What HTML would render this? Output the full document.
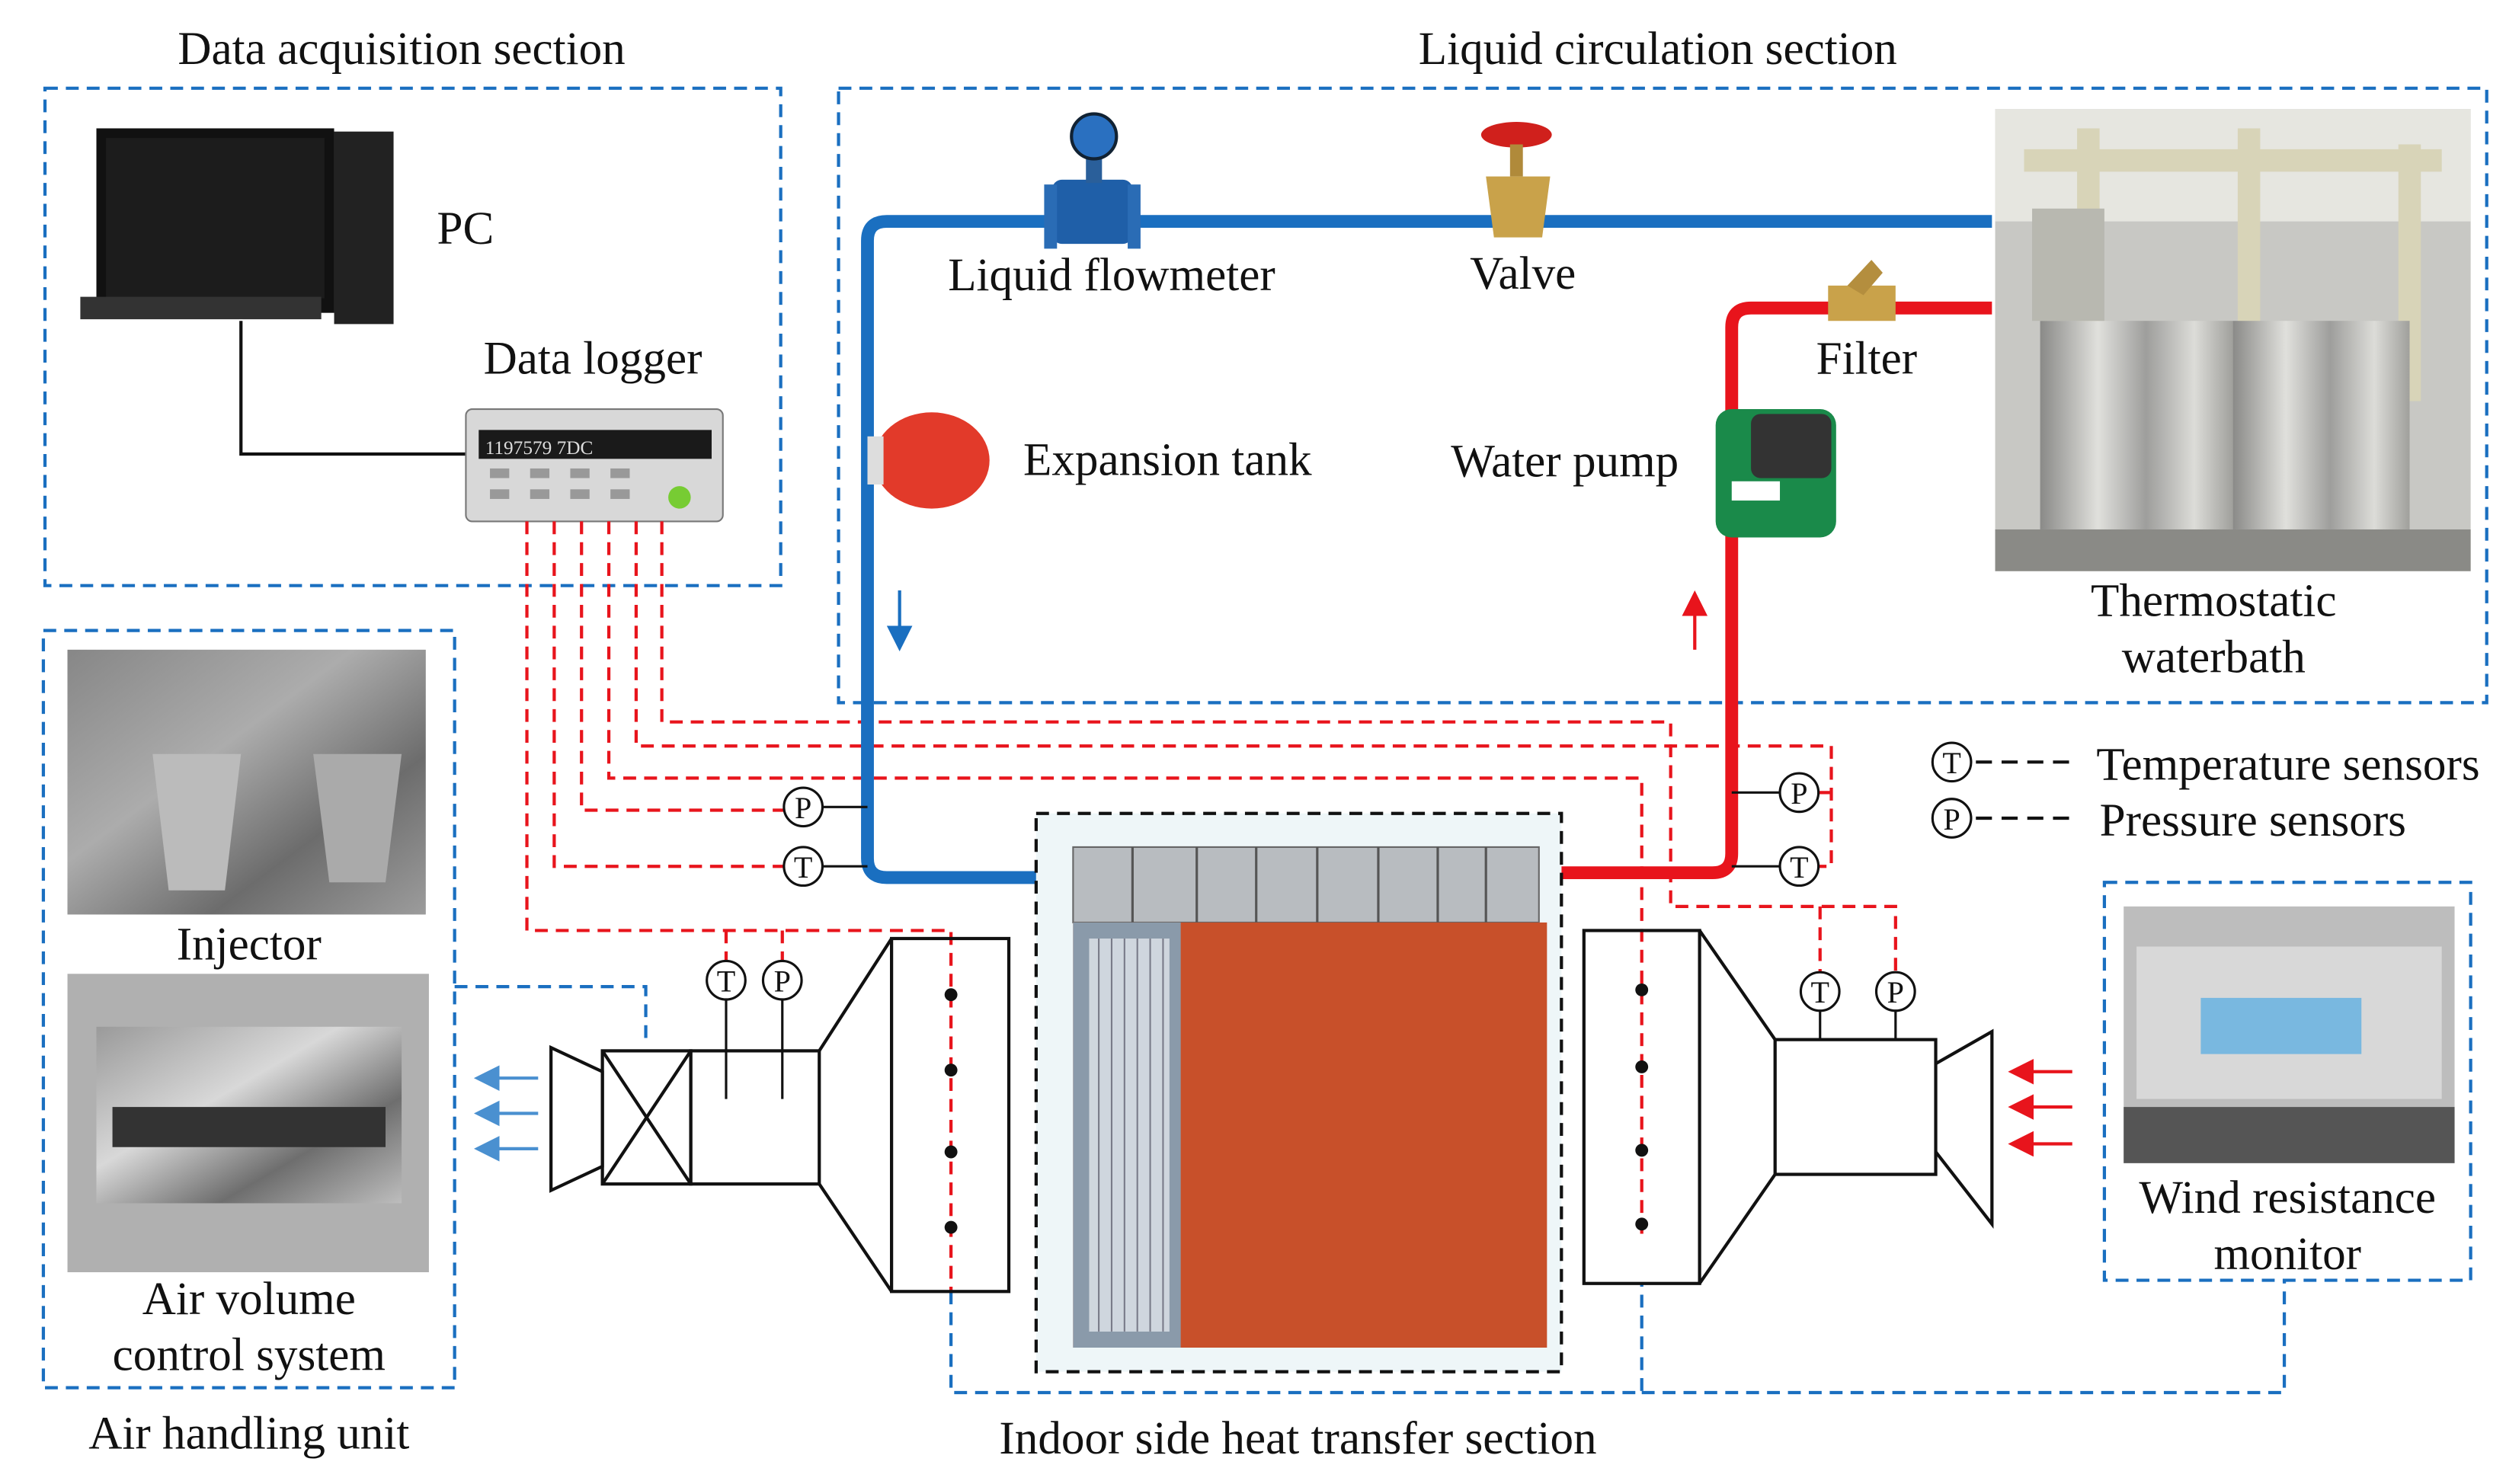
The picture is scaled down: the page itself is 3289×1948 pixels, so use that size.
<!DOCTYPE html>
<html><head><meta charset="utf-8"><style>
html,body{margin:0;padding:0;background:#fff}
svg{display:block}
text{font-family:"Liberation Serif",serif;font-size:29px;fill:#111}
</style></head><body>
<svg width="3289" height="1948" viewBox="0 0 1560 925" preserveAspectRatio="none" xmlns="http://www.w3.org/2000/svg">
<defs>
<linearGradient id="metal" x1="0" y1="0" x2="1" y2="1"><stop offset="0" stop-color="#9a9a9a"/><stop offset=".4" stop-color="#d8d8d8"/><stop offset=".7" stop-color="#6e6e6e"/><stop offset="1" stop-color="#bdbdbd"/></linearGradient>
<linearGradient id="bath" x1="0" y1="0" x2="1" y2="0"><stop offset="0" stop-color="#8a8a88"/><stop offset=".3" stop-color="#e0e0dc"/><stop offset=".55" stop-color="#9e9e9c"/><stop offset=".8" stop-color="#dcdcd8"/><stop offset="1" stop-color="#a0a09c"/></linearGradient>
<marker id="ab" markerWidth="8" markerHeight="8" refX="4" refY="4" orient="auto"><path d="M0,0 L8,4 L0,8 z" fill="#1a6fc0"/></marker>
<marker id="ar" markerWidth="8" markerHeight="8" refX="4" refY="4" orient="auto"><path d="M0,0 L8,4 L0,8 z" fill="#e8141c"/></marker>
<marker id="abl" markerWidth="8" markerHeight="8" refX="4" refY="4" orient="auto"><path d="M0,0 L8,4 L0,8 z" fill="#4a90d0"/></marker>
</defs>

<g fill="none" stroke="#1a6fc0" stroke-width="2" stroke-dasharray="8,5">
<rect x="28" y="55" width="458" height="310"/>
<rect x="522" y="55" width="1026" height="383"/>
<rect x="27" y="393" width="256" height="472"/>
<rect x="1310" y="550" width="228" height="248"/>
<path d="M283,615 H402 V648"/>
<path d="M592,805 V868 H1022 V800"/>
<path d="M1022,868 H1422 V798"/>
</g>

<text x="250" y="40" text-anchor="middle">Data acquisition section</text>
<text x="1032" y="40" text-anchor="middle">Liquid circulation section</text>

<rect x="60" y="80" width="148" height="115" fill="#111"/>
<rect x="66" y="86" width="136" height="100" fill="#1c1c1c"/>
<rect x="208" y="82" width="37" height="120" fill="#222"/>
<rect x="50" y="185" width="150" height="14" fill="#333"/>
<text x="272" y="152">PC</text>
<path d="M150,200 V283 H292" fill="none" stroke="#111" stroke-width="2"/>
<text x="301" y="233">Data logger</text>
<rect x="290" y="255" width="160" height="70" rx="4" fill="#d8d8d8" stroke="#777"/>
<rect x="298" y="268" width="145" height="18" fill="#1a1a1a"/>
<text x="302" y="283" style="font-size:12px;fill:#ddd">1197579 7DC</text>
<g fill="#999"><rect x="305" y="292" width="12" height="6"/><rect x="330" y="292" width="12" height="6"/><rect x="355" y="292" width="12" height="6"/><rect x="380" y="292" width="12" height="6"/><rect x="305" y="305" width="12" height="6"/><rect x="330" y="305" width="12" height="6"/><rect x="355" y="305" width="12" height="6"/><rect x="380" y="305" width="12" height="6"/></g>
<circle cx="423" cy="310" r="7" fill="#7c3"/>

<g fill="none" stroke="#e8141c" stroke-width="2" stroke-dasharray="8,5">
<path d="M328,325 V580 H592 V805"/>
<path d="M452,580 V600"/><path d="M487,580 V600"/>
<path d="M345,325 V540 H488"/>
<path d="M362,325 V505 H488"/>
<path d="M379,325 V485 H1022 V770"/>
<path d="M396,325 V465 H1140 V540 H1132"/>
<path d="M1140,494 H1132"/>
<path d="M412,325 V450 H1040 V565 H1180 V607"/>
<path d="M1133,565 V607"/>
</g>
<g fill="#111"><circle cx="592" cy="620" r="4"/><circle cx="592" cy="667" r="4"/><circle cx="592" cy="718" r="4"/><circle cx="592" cy="765" r="4"/>
<circle cx="1022" cy="617" r="4"/><circle cx="1022" cy="665" r="4"/><circle cx="1022" cy="717" r="4"/><circle cx="1022" cy="763" r="4"/></g>

<path d="M1240,138 H552 Q540,138 540,150 V535 Q540,547 552,547 H645" fill="none" stroke="#1a6fc0" stroke-width="8"/>
<path d="M1240,192 H1090 Q1078,192 1078,204 V532 Q1078,544 1066,544 H972" fill="none" stroke="#e8141c" stroke-width="8"/>
<line x1="560" y1="368" x2="560" y2="398" stroke="#1a6fc0" stroke-width="2" marker-end="url(#ab)"/>
<line x1="1055" y1="405" x2="1055" y2="376" stroke="#e8141c" stroke-width="2" marker-end="url(#ar)"/>

<rect x="655" y="112" width="50" height="40" rx="6" fill="#1f5fa8"/>
<rect x="650" y="115" width="8" height="40" fill="#2a6cb5"/><rect x="702" y="115" width="8" height="40" fill="#2a6cb5"/>
<rect x="676" y="92" width="10" height="22" fill="#2a5f9a"/>
<circle cx="681" cy="85" r="14" fill="#2a70c0" stroke="#123" stroke-width="2"/>
<text x="692" y="181" text-anchor="middle">Liquid flowmeter</text>
<ellipse cx="944" cy="84" rx="22" ry="8" fill="#d0201c"/>
<rect x="940" y="90" width="8" height="20" fill="#b08a3a"/>
<path d="M925,110 H965 L960,148 H930 Z" fill="#c9a24a"/>
<text x="948" y="180" text-anchor="middle">Valve</text>
<path d="M1138,178 L1180,178 L1180,200 L1138,200 Z" fill="#c9a24a"/>
<path d="M1150,178 L1165,162 L1172,170 L1160,184 Z" fill="#b48e3e"/>
<text x="1162" y="233" text-anchor="middle">Filter</text>
<rect x="1068" y="255" width="75" height="80" rx="10" fill="#1a8a4a"/>
<rect x="1090" y="258" width="50" height="40" rx="6" fill="#333"/>
<rect x="1078" y="300" width="30" height="12" fill="#fff"/>
<text x="1045" y="297" text-anchor="end">Water pump</text>
<ellipse cx="580" cy="287" rx="36" ry="30" fill="#e23a2a"/>
<rect x="540" y="272" width="10" height="30" fill="#ddd"/>
<text x="637" y="296">Expansion tank</text>

<rect x="1242" y="68" width="296" height="288" fill="#c8c8c4"/>
<rect x="1242" y="68" width="296" height="70" fill="#e6e6e0"/>
<path d="M1260,100 H1520 M1300,80 V250 M1400,80 V250 M1500,90 V250" stroke="#d8d4b8" stroke-width="14" fill="none"/>
<rect x="1270" y="200" width="120" height="130" fill="url(#bath)"/>
<rect x="1390" y="200" width="110" height="130" fill="url(#bath)"/>
<rect x="1265" y="130" width="45" height="70" fill="#b8b8b0"/>
<rect x="1242" y="330" width="296" height="26" fill="#8a8a86"/>
<text x="1378" y="384" text-anchor="middle">Thermostatic</text>
<text x="1378" y="419" text-anchor="middle">waterbath</text>

<g fill="#fff" stroke="#111" stroke-width="1.5"><circle cx="1215" cy="475" r="12"/><circle cx="1215" cy="510" r="12"/></g>
<text x="1215" y="482" text-anchor="middle" style="font-size:19px">T</text>
<text x="1215" y="517" text-anchor="middle" style="font-size:19px">P</text>
<g stroke="#111" stroke-width="2" stroke-dasharray="10,6"><line x1="1230" y1="475" x2="1292" y2="475"/><line x1="1230" y1="510" x2="1292" y2="510"/></g>
<text x="1305" y="486">Temperature sensors</text>
<text x="1307" y="521">Pressure sensors</text>

<g stroke="#111" stroke-width="1.5" fill="none">
<line x1="512" y1="503" x2="540" y2="503"/><line x1="512" y1="540" x2="540" y2="540"/>
<line x1="1078" y1="494" x2="1108" y2="494"/><line x1="1078" y1="540" x2="1108" y2="540"/>
<line x1="452" y1="623" x2="452" y2="685"/><line x1="487" y1="623" x2="487" y2="685"/>
<line x1="1133" y1="630" x2="1133" y2="648"/><line x1="1180" y1="630" x2="1180" y2="648"/>
</g>
<g fill="#fff" stroke="#111" stroke-width="1.5">
<circle cx="500" cy="503" r="12"/><circle cx="500" cy="540" r="12"/>
<circle cx="1120" cy="494" r="12"/><circle cx="1120" cy="540" r="12"/>
<circle cx="452" cy="611" r="12"/><circle cx="487" cy="611" r="12"/>
<circle cx="1133" cy="618" r="12"/><circle cx="1180" cy="618" r="12"/>
</g>
<g text-anchor="middle" style="font-size:19px">
<text x="500" y="510" style="font-size:19px">P</text><text x="500" y="547" style="font-size:19px">T</text>
<text x="1120" y="501" style="font-size:19px">P</text><text x="1120" y="547" style="font-size:19px">T</text>
<text x="452" y="618" style="font-size:19px">T</text><text x="487" y="618" style="font-size:19px">P</text>
<text x="1133" y="625" style="font-size:19px">T</text><text x="1180" y="625" style="font-size:19px">P</text>
</g>

<g fill="none" stroke="#111" stroke-width="2">
<path d="M343,653 L375,668 L375,727 L343,742 Z"/>
<rect x="375" y="655" width="55" height="83"/>
<path d="M375,655 L430,738 M430,655 L375,738"/>
<rect x="430" y="655" width="80" height="83"/>
<path d="M510,655 L555,585 M510,738 L555,805"/>
<rect x="555" y="585" width="73" height="220"/>
<rect x="986" y="580" width="72" height="220"/>
<path d="M1058,580 L1105,648 M1058,800 L1105,732"/>
<rect x="1105" y="648" width="100" height="84"/>
<path d="M1205,663 L1240,643 L1240,763 L1205,718"/>
</g>
<g stroke="#4a90d0" stroke-width="2"><line x1="335" y1="672" x2="303" y2="672" marker-end="url(#abl)"/><line x1="335" y1="694" x2="303" y2="694" marker-end="url(#abl)"/><line x1="335" y1="716" x2="303" y2="716" marker-end="url(#abl)"/></g>
<g stroke="#e8141c" stroke-width="2"><line x1="1290" y1="668" x2="1258" y2="668" marker-end="url(#ar)"/><line x1="1290" y1="690" x2="1258" y2="690" marker-end="url(#ar)"/><line x1="1290" y1="713" x2="1258" y2="713" marker-end="url(#ar)"/></g>

<rect x="645" y="507" width="327" height="348" fill="#eef6f8" stroke="#111" stroke-width="2" stroke-dasharray="8,5"/>
<rect x="668" y="528" width="290" height="47" fill="#b8bcc0" stroke="#666"/>
<g stroke="#555" stroke-width="1.5"><line x1="705" y1="528" x2="705" y2="575"/><line x1="745" y1="528" x2="745" y2="575"/><line x1="782" y1="528" x2="782" y2="575"/><line x1="820" y1="528" x2="820" y2="575"/><line x1="858" y1="528" x2="858" y2="575"/><line x1="895" y1="528" x2="895" y2="575"/><line x1="925" y1="528" x2="925" y2="575"/></g>
<rect x="668" y="575" width="295" height="265" fill="#c8502a"/>
<path d="M668,575 L735,575 L735,840 L668,840 Z" fill="#8a9aaa"/>
<rect x="678" y="585" width="50" height="245" fill="#cfd6de"/>
<g stroke="#556" stroke-width="1" opacity=".7">
<line x1="684" y1="585" x2="684" y2="830"/><line x1="692" y1="585" x2="692" y2="830"/><line x1="700" y1="585" x2="700" y2="830"/><line x1="708" y1="585" x2="708" y2="830"/><line x1="716" y1="585" x2="716" y2="830"/><line x1="724" y1="585" x2="724" y2="830"/>
</g>

<rect x="42" y="405" width="223" height="165" fill="#6a6a6a"/>
<rect x="42" y="405" width="223" height="165" fill="url(#metal)" opacity=".6"/>
<path d="M95,470 L150,470 L140,555 L105,555 Z" fill="#bbb"/>
<path d="M195,470 L250,470 L240,550 L205,550 Z" fill="#aaa"/>
<text x="155" y="598" text-anchor="middle">Injector</text>
<rect x="42" y="607" width="225" height="186" fill="#b0b0b0"/>
<rect x="60" y="640" width="190" height="110" fill="url(#metal)"/>
<rect x="70" y="690" width="170" height="25" fill="#333"/>
<text x="155" y="819" text-anchor="middle">Air volume</text>
<text x="155" y="854" text-anchor="middle">control system</text>
<text x="155" y="903" text-anchor="middle">Air handling unit</text>

<rect x="1322" y="565" width="206" height="160" fill="#bdbdbd"/>
<rect x="1330" y="590" width="190" height="95" fill="#d8d8d8"/>
<rect x="1370" y="622" width="100" height="35" fill="#79b8e0"/>
<rect x="1322" y="690" width="206" height="35" fill="#555"/>
<text x="1424" y="756" text-anchor="middle">Wind resistance</text>
<text x="1424" y="791" text-anchor="middle">monitor</text>

<text x="808" y="906" text-anchor="middle">Indoor side heat transfer section</text>
</svg>
</body></html>
